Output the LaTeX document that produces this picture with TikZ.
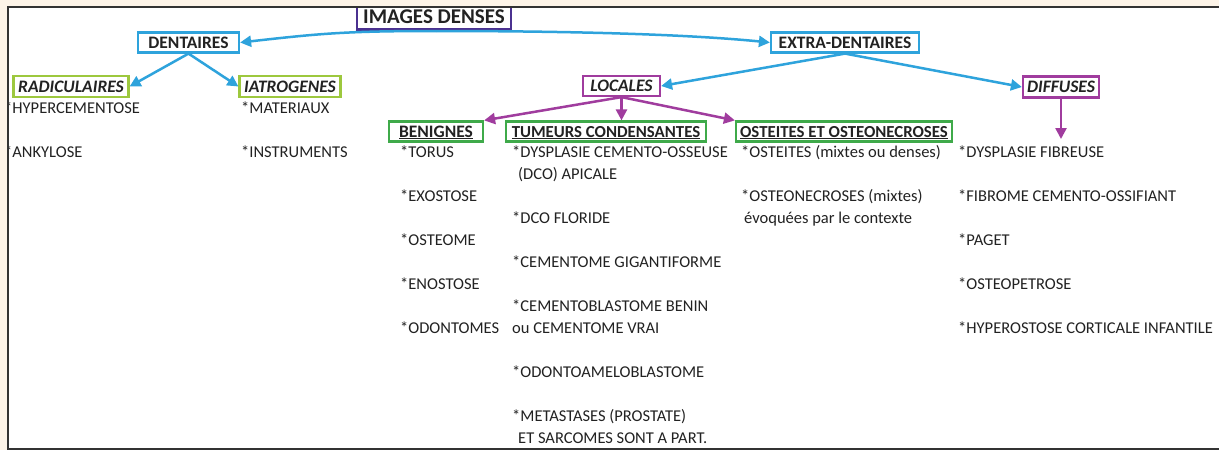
\documentclass[tikz,border=0pt]{standalone}
\usepackage{fontspec}
\setmainfont{Carlito}
\usetikzlibrary{arrows.meta}
\definecolor{cyanc}{HTML}{2EA3DC}
\definecolor{limec}{HTML}{9DC83E}
\definecolor{purpc}{HTML}{A03C9E}
\definecolor{greenc}{HTML}{3FAA4A}
\definecolor{deepc}{HTML}{4B3190}
\definecolor{creamc}{HTML}{FDF4E8}
\definecolor{inkc}{HTML}{222222}
\definecolor{framec}{HTML}{333333}
\begin{document}
\begin{tikzpicture}[x=1pt,y=-1pt,
  lbl/.style={draw=#1, line width=2.2pt, fill=white, inner sep=0pt, text=inkc,
    font=\fontsize{17.5}{21}\selectfont\bfseries, text height=11pt, text depth=0pt},
  itm/.style={anchor=base west, inner sep=0pt, text=inkc, font=\fontsize{16.5}{20}\selectfont},
  arr/.style={draw=#1, line width=2.5pt, -{Triangle[length=11pt,width=11pt]}}]
\useasboundingbox (0,0) rectangle (1219,450);
\fill[white] (0,0) rectangle (1219,450);

% boxes
\node[lbl=deepc, minimum width=154pt, minimum height=26pt, text height=13.5pt,
  font=\fontsize{21}{25}\selectfont\bfseries] (img) at (434,16.5) {IMAGES DENSES};
\node[lbl=cyanc, minimum width=101pt, minimum height=20pt] (dent) at (188.5,42.5) {DENTAIRES};
\node[lbl=cyanc, minimum width=148pt, minimum height=20pt] (extra) at (845,42.5) {EXTRA-DENTAIRES};
\node[lbl=limec, minimum width=115pt, minimum height=21pt] (radic) at (71,86.5) {\itshape RADICULAIRES};
\node[lbl=limec, minimum width=101pt, minimum height=21pt] (iatro) at (290,86.5) {\itshape IATROGENES};
\node[lbl=purpc, minimum width=77pt, minimum height=20pt] (locales) at (621.5,86) {\itshape LOCALES};
\node[lbl=purpc, minimum width=76pt, minimum height=21pt] (diffuses) at (1061,87) {\itshape DIFFUSES};
\node[lbl=greenc, minimum width=94pt, minimum height=20pt] (benignes) at (436,131.5) {\underline{BENIGNES}};
\node[lbl=greenc, minimum width=200pt, minimum height=20pt, font=\fontsize{16.8}{20}\selectfont\bfseries] (tumeurs) at (606,131.5) {\underline{TUMEURS CONDENSANTES}};
\node[lbl=greenc, minimum width=216pt, minimum height=20pt, font=\fontsize{16.8}{20}\selectfont\bfseries] (osteites) at (844,131.5) {\underline{OSTEITES ET OSTEONECROSES}};

% connectors
\coordinate (split) at (436,31);
\draw[arr=cyanc] (split) .. controls +(-90,0) and +(80,-9) .. (dent.east);
\draw[arr=cyanc] (split) .. controls +(90,0) and +(-100,-10) .. (extra.west);
\draw[arr=cyanc] (dent.south) -- (radic.east);
\draw[arr=cyanc] (dent.south) -- (iatro.west);
\draw[arr=cyanc] (extra.south) -- (locales.east);
\draw[arr=cyanc] (extra.south) -- (diffuses.west);
\draw[arr=purpc] (locales.south) -- (benignes.north east);
\draw[arr=purpc] (locales.south) -- (locales.south |- tumeurs.north);
\draw[arr=purpc] (locales.south) -- (osteites.north west);
\coordinate (dfend) at (1061,139);
\draw[arr=purpc] (diffuses.south) -- (dfend);

% texts
\node[itm] (t1) at (4,113) {*HYPERCEMENTOSE};
\node[itm] (t2) at (4,157) {*ANKYLOSE};
\node[itm] (t3) at (241,113) {*MATERIAUX};
\node[itm] (t4) at (241,157) {*INSTRUMENTS};

\node[itm] (b1) at (400,157) {*TORUS};
\node[itm] (b2) at (400,201) {*EXOSTOSE};
\node[itm] (b3) at (400,245) {*OSTEOME};
\node[itm] (b4) at (400,289) {*ENOSTOSE};
\node[itm] (b5) at (400,333) {*ODONTOMES};

\node[itm] (c1) at (512,157) {*DYSPLASIE CEMENTO-OSSEUSE};
\node[itm] (c1b) at (518,179) {(DCO) APICALE};
\node[itm] (c2) at (512,223) {*DCO FLORIDE};
\node[itm] (c3) at (512,267) {*CEMENTOME GIGANTIFORME};
\node[itm] (c4) at (512,311) {*CEMENTOBLASTOME BENIN};
\node[itm] (c4b) at (512,333) {ou CEMENTOME VRAI};
\node[itm] (c5) at (512,377) {*ODONTOAMELOBLASTOME};
\node[itm] (c6) at (512,421) {*METASTASES (PROSTATE)};
\node[itm] (c6b) at (518,443) {ET SARCOMES SONT A PART.};

\node[itm] (o1) at (741,157) {*OSTEITES (mixtes ou denses)};
\node[itm] (o2) at (741,201) {*OSTEONECROSES (mixtes)};
\node[itm] (o2b) at (744,223) {évoquées par le contexte};

\node[itm] (d1) at (958,157) {*DYSPLASIE FIBREUSE};
\node[itm] (d2) at (958,201) {*FIBROME CEMENTO-OSSIFIANT};
\node[itm] (d3) at (958,245) {*PAGET};
\node[itm] (d4) at (958,289) {*OSTEOPETROSE};
\node[itm] (d5) at (958,333) {*HYPEROSTOSE CORTICALE INFANTILE};

% outer frame
\fill[creamc] (0,0) rectangle (1219,7);
\fill[creamc] (0,0) rectangle (8,450);
\draw[framec, line width=1.6pt] (1219,7) -- (8,7) -- (8,449) -- (1219,449);
\end{tikzpicture}
\end{document}
